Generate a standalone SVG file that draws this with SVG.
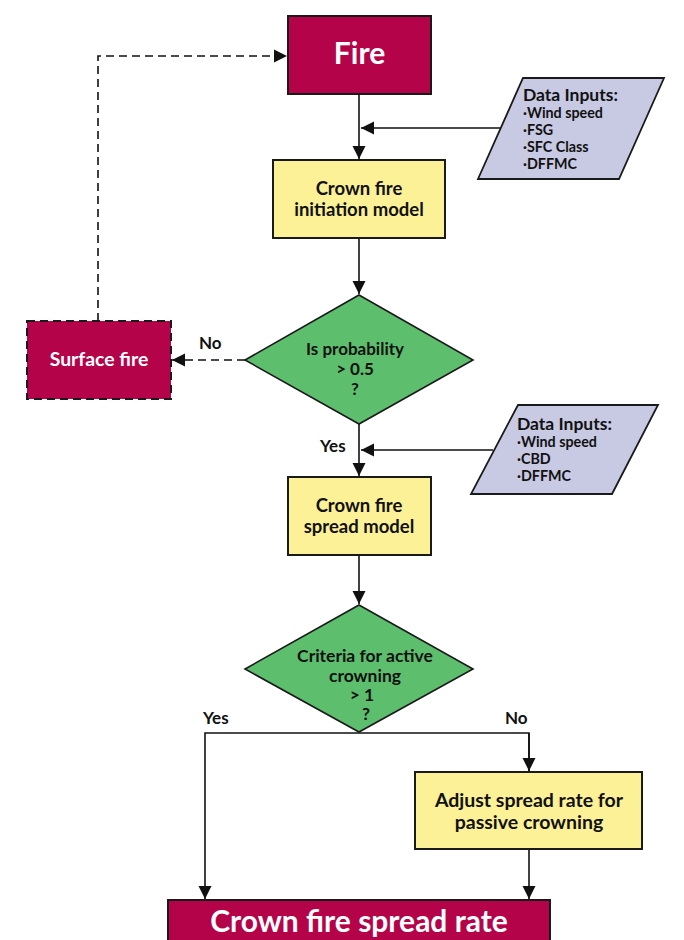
<svg xmlns="http://www.w3.org/2000/svg" width="684" height="940" viewBox="0 0 684 940">
<defs>
<style>
.crim{fill:#b5034a;stroke:#1a1a1a;stroke-width:2}
.yel{fill:#fdf197;stroke:#1a1a1a;stroke-width:2}
.grn{fill:#5dbe6e;stroke:#1a1a1a;stroke-width:1.6}
.lav{fill:#c8c9e2;stroke:#1a1a1a;stroke-width:1.8}
.t{font-family:Lato,"Open Sans",sans-serif;font-weight:bold;fill:#111}
.w{fill:#fff}
.c{text-anchor:middle}
.ln{fill:none;stroke:#111;stroke-width:1.6}
.dash{stroke-dasharray:8,5}
</style>
<marker id="ahb" viewBox="0 0 10 10" refX="10" refY="5" markerWidth="13" markerHeight="15" markerUnits="userSpaceOnUse" orient="auto">
<path d="M0,0 L10,5 L0,10 z" fill="#111"/>
</marker>
</defs>

<g id="connectors">
<line class="ln" x1="359" y1="94" x2="359" y2="159" marker-end="url(#ahb)"/>
<line class="ln" x1="500" y1="128" x2="361" y2="128" marker-end="url(#ahb)"/>
<line class="ln" x1="359" y1="238" x2="359" y2="294" marker-end="url(#ahb)"/>
<line class="ln dash" x1="245" y1="360" x2="172" y2="360" marker-end="url(#ahb)"/>
<polyline class="ln dash" points="98,321 98,56 287,56" marker-end="url(#ahb)"/>
<line class="ln" x1="359" y1="424" x2="359" y2="476" marker-end="url(#ahb)"/>
<line class="ln" x1="493" y1="450" x2="361" y2="450" marker-end="url(#ahb)"/>
<line class="ln" x1="359" y1="555" x2="359" y2="604" marker-end="url(#ahb)"/>
<polyline class="ln" points="529,771 529,733 205,733 205,899" marker-end="url(#ahb)"/>
<line class="ln" x1="529" y1="733" x2="529" y2="771" marker-end="url(#ahb)"/>
<line class="ln" x1="529" y1="849" x2="529" y2="899" marker-end="url(#ahb)"/>
<text class="t" x="199" y="349" font-size="17">No</text>
<text class="t" x="320" y="452" font-size="17">Yes</text>
<text class="t" x="203" y="724" font-size="17">Yes</text>
<text class="t" x="505" y="724" font-size="17">No</text>
</g>

<g id="fire">
<rect class="crim" x="288" y="16" width="143" height="78"/>
<text class="t w c" x="359.5" y="64" font-size="30">Fire</text>
</g>

<g id="inputs1">
<polygon class="lav" points="523,78 664,78 619,179 478,179"/>
<text class="t" x="523" y="101" font-size="17.5">Data Inputs:</text>
<text class="t" x="523" y="118" font-size="14.3">·Wind speed</text>
<text class="t" x="523" y="135" font-size="14.3">·FSG</text>
<text class="t" x="523" y="152" font-size="14.3">·SFC Class</text>
<text class="t" x="523" y="169" font-size="14.3">·DFFMC</text>
</g>

<g id="initiation">
<rect class="yel" x="273" y="160" width="172" height="78"/>
<text class="t c" x="359" y="194.5" font-size="18.5">Crown fire</text>
<text class="t c" x="359" y="216" font-size="18.5">initiation model</text>
</g>

<g id="decision1">
<polygon class="grn" points="359,295 473,360 359,424 245,360"/>
<text class="t c" x="355" y="355" font-size="17">Is probability</text>
<text class="t c" x="355" y="375" font-size="17">&gt; 0.5</text>
<text class="t c" x="355" y="394.5" font-size="17">?</text>
</g>

<g id="surface">
<rect class="crim dash" x="27" y="321" width="144" height="78"/>
<text class="t w c" x="99" y="366" font-size="19.4">Surface fire</text>
</g>

<g id="inputs2">
<polygon class="lav" points="518,405 658,405 612,494 471,494"/>
<text class="t" x="517" y="430" font-size="17.5">Data Inputs:</text>
<text class="t" x="517" y="447" font-size="14.3">·Wind speed</text>
<text class="t" x="517" y="464" font-size="14.3">·CBD</text>
<text class="t" x="517" y="481" font-size="14.3">·DFFMC</text>
</g>

<g id="spread">
<rect class="yel" x="288" y="477" width="143" height="78"/>
<text class="t c" x="359" y="511.5" font-size="18.5">Crown fire</text>
<text class="t c" x="359" y="533" font-size="18.5">spread model</text>
</g>

<g id="decision2">
<polygon class="grn" points="359,605 473,669 359,732 245,669"/>
<text class="t c" x="365" y="662" font-size="17.5">Criteria for active</text>
<text class="t c" x="365" y="682" font-size="17.5">crowning</text>
<text class="t c" x="362" y="701" font-size="17.5">&gt; 1</text>
<text class="t c" x="366" y="720" font-size="17.5">?</text>
</g>

<g id="adjust">
<rect class="yel" x="415" y="772" width="227" height="77"/>
<text class="t c" x="529" y="806.5" font-size="19.5">Adjust spread rate for</text>
<text class="t c" x="529" y="829" font-size="19.5">passive crowning</text>
</g>

<g id="result">
<rect class="crim" x="168" y="900" width="382" height="50"/>
<text class="t w c" x="359" y="932" font-size="30">Crown fire spread rate</text>
</g>
</svg>
